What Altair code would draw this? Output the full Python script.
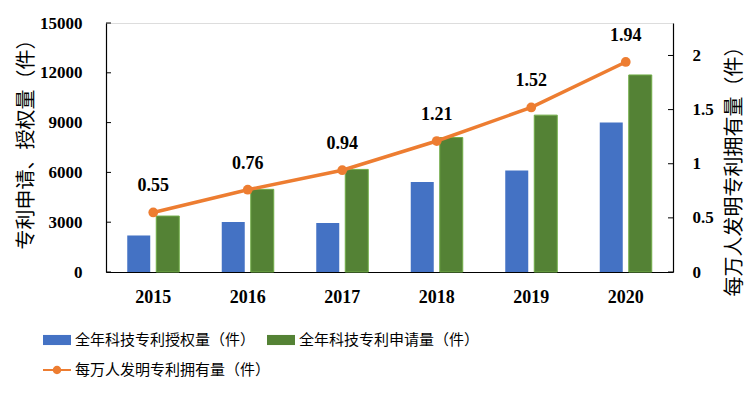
import altair as alt
import pandas as pd

years = ["2015", "2016", "2017", "2018", "2019", "2020"]
granted = [2200, 3010, 2950, 5420, 6110, 9000]
applied = [3370, 4980, 6180, 8100, 9450, 11870]
per10k = [0.55, 0.76, 0.94, 1.21, 1.52, 1.94]

left_ticks = [0, 3000, 6000, 9000, 12000, 15000]
right_ticks = [0, 0.5, 1, 1.5, 2]

name_g = "全年科技专利授权量（件）"
name_a = "全年科技专利申请量（件）"
name_l = "每万人发明专利拥有量（件）"

BLUE = "#4472C4"
GREEN = "#548235"
GREEN_EDGE = "#70AD47"
ORANGE = "#ED7D31"

df = pd.DataFrame({"year": years, "granted": granted, "applied": applied, "per10k": per10k})
df["s_g"] = name_g
df["s_a"] = name_a
df["s_l"] = name_l
lt = pd.DataFrame({"v": left_ticks})
rt = pd.DataFrame({"v": right_ticks})

W, H = 567, 249
CJK = "Noto Sans CJK SC"
SERIF = "Liberation Serif"

x_enc = alt.X("year:O", scale=alt.Scale(paddingInner=0, paddingOuter=0),
              axis=alt.Axis(title=None, labelAngle=0, ticks=False, tickSize=0, labelPadding=16,
                            labelFont=SERIF, labelFontSize=18, labelFontWeight="bold",
                            labelColor="black", domainColor="black", domainWidth=1.2))

lscale = alt.Scale(domain=[0, 15000], nice=False, zero=True)
rscale = alt.Scale(domain=[0, 2.3], nice=False, zero=True)

fill_scale = alt.Scale(domain=[name_g, name_a], range=[BLUE, GREEN])
bar_legend = alt.Legend(title=None, orient="none", legendX=-63, legendY=303, direction="horizontal",
                        columns=2, columnPadding=11, padding=0,
                        symbolType="M-1,-0.36H1V0.36H-1Z", symbolSize=784, symbolStrokeWidth=0,
                        labelFont=CJK, labelFontSize=15, labelColor="black", labelOffset=4,
                        labelLimit=400)

left_axis = alt.Axis(orient="left", values=left_ticks, format="d", title="专利申请、授权量（件）",
                     ticks=False, tickSize=0, labelPadding=24, grid=False,
                     labelFont=SERIF, labelFontSize=17, labelFontWeight="bold", labelColor="black",
                     domainColor="black", domainWidth=1.2,
                     titleFont=CJK, titleFontSize=20, titleFontWeight="normal", titleColor="black",
                     titleAngle=270, titleAlign="center", titleBaseline="middle",
                     titleX=-80, titleY=116)

right_axis = alt.Axis(orient="right", values=right_ticks, format="~g", title=name_l,
                      ticks=False, tickSize=0, labelPadding=19, grid=False,
                      labelFont=SERIF, labelFontSize=17, labelFontWeight="bold", labelColor="black",
                      domainColor="black", domainWidth=1.2,
                      titleFont=CJK, titleFontSize=20, titleFontWeight="normal", titleColor="black",
                      titleAngle=270, titleAlign="center", titleBaseline="middle",
                      titleX=61, titleY=143)

bars_g = alt.Chart(df).mark_bar(width=23, xOffset=-14.5).encode(
    x=x_enc,
    y=alt.Y("granted:Q", scale=lscale, axis=left_axis),
    fill=alt.Fill("s_g:N", scale=fill_scale, legend=bar_legend),
)
bars_a = alt.Chart(df).mark_bar(width=23, xOffset=14.5, stroke=GREEN_EDGE, strokeWidth=1).encode(
    x=x_enc,
    y=alt.Y("applied:Q", scale=lscale),
    fill=alt.Fill("s_a:N", scale=fill_scale, legend=bar_legend),
)
lticks = alt.Chart(lt).mark_rule(color="black", strokeWidth=1).encode(
    y=alt.Y("v:Q", scale=lscale), x=alt.value(0), x2=alt.value(5))

left = alt.layer(bars_g, bars_a, lticks)

line_legend = alt.Legend(title=None, orient="none", legendX=-63, legendY=333, padding=0,
                         symbolType="M-1,-0.07H1V0.07H-1Z M0.3,0A0.3,0.3 0 1,1 -0.3,0A0.3,0.3 0 1,1 0.3,0Z",
                         symbolSize=784, symbolFillColor=ORANGE, symbolStrokeWidth=0,
                         labelFont=CJK, labelFontSize=15, labelColor="black", labelOffset=4,
                         labelLimit=400)

line = alt.Chart(df).mark_line(strokeWidth=3.5).encode(
    x=x_enc,
    y=alt.Y("per10k:Q", scale=rscale, axis=right_axis),
    stroke=alt.Stroke("s_l:N", scale=alt.Scale(range=[ORANGE]), legend=line_legend),
)
pts = alt.Chart(df).mark_point(filled=True, size=95, opacity=1, color=ORANGE).encode(
    x=x_enc, y=alt.Y("per10k:Q", scale=rscale))
labels = alt.Chart(df).mark_text(dy=-26, font=SERIF, fontSize=18, fontWeight="bold",
                                 color="black", baseline="middle").encode(
    x=x_enc, y=alt.Y("per10k:Q", scale=rscale), text=alt.Text("per10k:Q", format=".2f"))
rticks = alt.Chart(rt).mark_rule(color="black", strokeWidth=1).encode(
    y=alt.Y("v:Q", scale=rscale), x=alt.value(W - 5), x2=alt.value(W))

right = alt.layer(line, pts, labels, rticks)

chart = alt.layer(left, right).resolve_scale(y="independent").properties(
    width=W, height=H,
    autosize=alt.AutoSizeParams(type="none"),
    padding={"left": 98, "top": 15, "right": 72, "bottom": 110},
).configure_view(stroke=None).configure(background="white")

chart.save("out.html", embed_options={"renderer": "svg", "actions": False})
